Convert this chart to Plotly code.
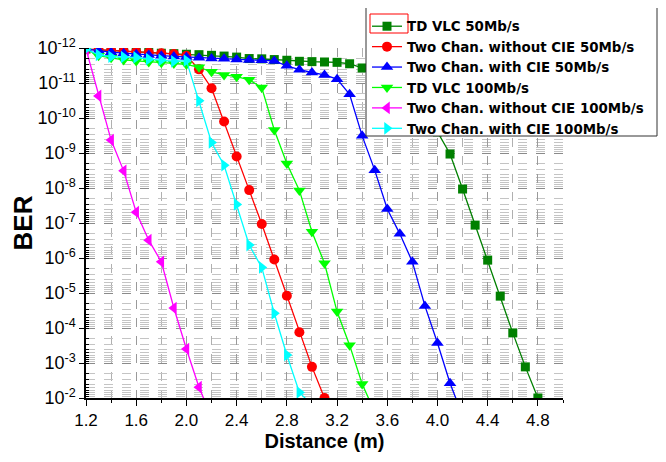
import plotly.graph_objects as go

distance = [1.2, 1.3, 1.4, 1.5, 1.6, 1.7, 1.8, 1.9, 2.0, 2.1, 2.2, 2.3, 2.4, 2.5, 2.6, 2.7,
            2.8, 2.9, 3.0, 3.1, 3.2, 3.3, 3.4, 3.5, 3.6, 3.7, 3.8, 3.9, 4.0, 4.1, 4.2, 4.3,
            4.4, 4.5, 4.6, 4.7, 4.8]

ber_td_50 = [1.07e-12, 1.12e-12, 1.17e-12, 1.23e-12, 1.29e-12, 1.35e-12, 1.41e-12, 1.45e-12,
             1.51e-12, 1.55e-12, 1.62e-12, 1.70e-12, 1.82e-12, 2.0e-12, 2.04e-12, 2.14e-12,
             2.24e-12, 2.4e-12, 2.45e-12, 2.51e-12, 2.57e-12, 2.82e-12, 3.72e-12, 5.0e-12,
             7.1e-12, 1.12e-11, 2.24e-11, 6.3e-11, 2.5e-10, 1.07e-9, 1.07e-8, 1.15e-7,
             1.15e-6, 1.23e-5, 1.38e-4, 1.29e-3, 1.0e-2]

ber_wo_cie_50 = [1.07e-12, 1.12e-12, 1.17e-12, 1.23e-12, 1.29e-12, 1.35e-12, 1.41e-12, 1.48e-12,
                 1.66e-12, 4.07e-12, 1.41e-11, 1.26e-10, 1.26e-9, 1.15e-8, 1.07e-7, 1.10e-6,
                 1.20e-5, 1.32e-4, 1.29e-3, 1.0e-2]

ber_w_cie_50 = [1.07e-12, 1.20e-12, 1.32e-12, 1.41e-12, 1.51e-12, 1.58e-12, 1.66e-12, 1.74e-12,
                1.82e-12, 1.91e-12, 2.0e-12, 2.04e-12, 2.14e-12, 2.19e-12, 2.24e-12, 2.34e-12,
                3.24e-12, 4.17e-12, 5.01e-12, 5.89e-12, 7.76e-12, 2.09e-11, 3.24e-10, 3.09e-9,
                3.98e-8, 2.04e-7, 1.29e-6, 2.34e-5, 2.69e-4, 3.80e-3, 3.16e-2]

ber_td_100 = [1.07e-12, 1.66e-12, 1.91e-12, 2.19e-12, 2.34e-12, 2.51e-12, 2.63e-12, 2.75e-12,
              2.95e-12, 3.55e-12, 4.79e-12, 5.89e-12, 6.61e-12, 8.13e-12, 1.35e-11, 2.19e-10,
              2.0e-9, 1.17e-8, 1.78e-7, 1.41e-6, 3.39e-5, 3.09e-4, 3.98e-3, 2.5e-2]

ber_wo_cie_100 = [1.07e-12, 2.34e-11, 4.27e-10, 3.24e-9, 4.9e-8, 3.09e-7, 1.29e-6, 2.69e-5,
                  3.98e-4, 4.9e-3, 3.5e-2]

ber_w_cie_100 = [1.07e-12, 1.58e-12, 1.78e-12, 1.82e-12, 1.86e-12, 2.09e-12, 2.19e-12, 2.40e-12,
                 2.29e-12, 3.24e-11, 5.01e-10, 2.24e-9, 2.95e-8, 4.27e-7, 1.86e-6, 3.8e-5,
                 5.89e-4, 6.92e-3, 1.58e-2]

series_names = ["TD VLC 50Mb/s", "Two Chan. without CIE 50Mb/s", "Two Chan. with CIE 50Mb/s",
                "TD VLC 100Mb/s", "Two Chan. without CIE 100Mb/s", "Two Chan. with CIE 100Mb/s"]

y_tick_values = [1e-12, 1e-11, 1e-10, 1e-9, 1e-8, 1e-7, 1e-6, 1e-5, 1e-4, 1e-3, 1e-2]
y_tick_labels = ["10<sup>-12</sup>", "10<sup>-11</sup>", "10<sup>-10</sup>", "10<sup>-9</sup>",
                 "10<sup>-8</sup>", "10<sup>-7</sup>", "10<sup>-6</sup>", "10<sup>-5</sup>",
                 "10<sup>-4</sup>", "10<sup>-3</sup>", "10<sup>-2</sup>"]

series_data = [ber_td_50, ber_wo_cie_50, ber_w_cie_50, ber_td_100, ber_wo_cie_100, ber_w_cie_100]
colors = ["#008000", "#FF0000", "#0000FF", "#00FF00", "#FF00FF", "#00FFFF"]
symbols = ["square", "circle", "triangle-up", "triangle-down", "triangle-left", "triangle-right"]
sizes = [9, 10, 11, 11, 11, 11]

FONT = "Liberation Sans, Arial, sans-serif"

# page body has an 8px margin; plot area in page pixels: x 86..563, y 48..398
PL, PR, PT, PB = 86, 563, 48, 398
PW, PH = PR - PL, PB - PT


def px_x(v):
    return (v - PL) / PW


def px_y(v):
    return 1 + (PT - v) / PH


fig = go.Figure()
for name, ys, c, s, sz in zip(series_names, series_data, colors, symbols, sizes):
    fig.add_trace(go.Scatter(
        x=distance[:len(ys)], y=ys, name=name, mode="lines+markers",
        line=dict(color=c, width=1.3),
        marker=dict(symbol=s, size=sz, color=c, line=dict(width=0)),
    ))

# legend box (white, framed) drawn as a shape so the red selection frame can sit on top
fig.add_shape(type="rect", xref="paper", yref="paper", layer="above",
              x0=px_x(366), x1=px_x(657), y0=px_y(136), y1=px_y(7),
              line=dict(color="#333333", width=1), fillcolor="white")
# red selection frame around the first legend key (as in the reference)
fig.add_shape(type="rect", xref="paper", yref="paper", layer="above",
              x0=px_x(370), x1=px_x(408), y0=px_y(33), y1=px_y(14),
              line=dict(color="#FF0000", width=1), fillcolor="rgba(0,0,0,0)")

fig.update_layout(
    width=658, height=454,
    margin=dict(l=PL - 8, r=666 - PR, t=PT - 8, b=462 - PB, autoexpand=False),
    paper_bgcolor="white", plot_bgcolor="white",
    font=dict(family=FONT, color="black", size=17),
    legend=dict(
        x=px_x(367), y=px_y(11), xanchor="left", yanchor="top",
        bgcolor="rgba(0,0,0,0)", borderwidth=0,
        font=dict(family="DejaVu Sans, sans-serif", size=13.4, weight="bold", color="black"),
        tracegroupgap=0, itemwidth=30,
    ),
    xaxis=dict(
        range=[1.2, 5.0], tick0=1.2, dtick=0.4, tickformat=".1f",
        showline=True, linecolor="black", linewidth=1.5,
        ticks="outside", ticklen=6, tickcolor="black",
        showgrid=True, gridcolor="#9a9a9a", griddash="dash", gridwidth=1,
        zeroline=False, automargin=False,
        minor=dict(dtick=0.2, tick0=1.2, ticks="outside", ticklen=3, tickcolor="black",
                   showgrid=True, gridcolor="#b0b0b0", griddash="dash"),
        title=dict(text="<b>Distance (m)</b>", font=dict(size=20), standoff=4),
        tickfont=dict(size=17),
    ),
    yaxis=dict(
        type="log", range=[-2, -12],
        tickvals=y_tick_values, ticktext=y_tick_labels,
        showline=True, linecolor="black", linewidth=1.5,
        ticks="outside", ticklen=5, tickcolor="black",
        showgrid=True, gridcolor="#8a8a8a", griddash="dash", gridwidth=1,
        zeroline=False, automargin=False,
        minor=dict(dtick="D1", ticks="inside", ticklen=3, tickcolor="black",
                   showgrid=True, gridcolor="#c4c4c4", griddash="dash"),
        title=dict(text="<b>BER</b>", font=dict(size=26), standoff=4),
        tickfont=dict(size=18),
    ),
)

fig.write_html("out.html")
